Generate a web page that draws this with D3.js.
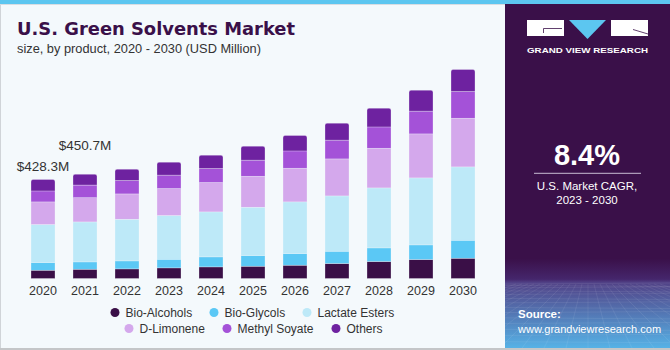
<!DOCTYPE html>
<html lang="en">
<head>
<meta charset="utf-8">
<title>U.S. Green Solvents Market</title>
<script src="https://cdn.jsdelivr.net/npm/d3@7"></script>
<style>
  body { margin: 0; background: #f4f9fc; }
  svg text { font-family: "Liberation Sans", Arial, sans-serif; }
</style>
</head>
<body>
<script>
// years on the x axis
const years = ["2020","2021","2022","2023","2024","2025","2026","2027","2028","2029","2030"];
// product segments, bottom to top
const products = ["Bio-Alcohols","Bio-Glycols","Lactate Esters","D-Limonene","Methyl Soyate","Others"];
const colors = ["#3a0f47","#5bc8f5","#bde9f8","#d4a8ec","#a452d8","#6e22a0"];

// USD million
const bioAlcohols   = [35.9, 40.2, 41.5, 45.9, 50.2, 53.2, 57.6, 64.9, 73.6, 82.2, 87.8];
const bioGlycols    = [33.3, 31.6, 34.6, 37.6, 43.3, 46.3, 50.6, 53.2, 58.8, 63.2, 77.9];
const lactateEsters = [164.4, 173.0, 180.4, 189.1, 194.7, 209.0, 223.3, 239.3, 259.6, 289.9, 317.2];
const dLimonene     = [97.8, 105.0, 109.5, 116.8, 127.2, 134.1, 145.8, 160.1, 171.8, 190.4, 210.7];
const methylSoyate  = [47.6, 54.5, 58.0, 57.6, 60.6, 69.2, 74.9, 80.9, 92.2, 98.2, 115.5];
const others        = [49.3, 46.5, 48.9, 56.3, 57.6, 60.6, 66.6, 73.6, 80.9, 90.9, 95.2];

const valueLabels = ["$428.3M", "$450.7M"];   // shown on 2020 and 2021

const W = 670, H = 350;

const svg = d3.select("body").append("svg")
  .attr("width", W).attr("height", H);

// background + frame
svg.append("rect").attr("width", W).attr("height", H).attr("fill", "#f4f9fc");
svg.append("rect").attr("x", 0).attr("y", 0).attr("width", 1).attr("height", H).attr("fill", "#d0d4d8");
svg.append("rect").attr("x", 0).attr("y", 348).attr("width", W).attr("height", 2).attr("fill", "#c4c6c8");
svg.append("rect").attr("x", 0).attr("y", 0).attr("width", W).attr("height", 4).attr("fill", "#5cc6f0");
svg.append("rect").attr("x", 0).attr("y", 4).attr("width", 505).attr("height", 1).attr("fill", "#d8dde2");

// title
svg.append("text").attr("x", 17).attr("y", 35)
  .style("font-family", "'DejaVu Sans', sans-serif")
  .style("font-weight", "bold").style("font-size", "17.9px")
  .attr("fill", "#3a1049")
  .text("U.S. Green Solvents Market");
svg.append("text").attr("x", 17).attr("y", 53)
  .style("font-size", "12.8px").attr("fill", "#333")
  .text("size, by product, 2020 - 2030 (USD Million)");

// stack the series
const series = [bioAlcohols, bioGlycols, lactateEsters, dLimonene, methylSoyate, others];
const rows = years.map((yr, i) => {
  const r = { year: yr };
  products.forEach((p, k) => r[p] = series[k][i]);
  return r;
});
const stacked = d3.stack().keys(products)(rows);

const x = d3.scaleBand().domain(years).range([22, 484])
  .paddingInner(18 / 42).paddingOuter(9 / 42);
const y = d3.scaleLinear().domain([0, 1000]).range([278.5, 47.4]);

function roundTop(x0, y0, w, h, r) {
  return `M${x0},${y0 + h}V${y0 + r}Q${x0},${y0} ${x0 + r},${y0}` +
         `H${x0 + w - r}Q${x0 + w},${y0} ${x0 + w},${y0 + r}V${y0 + h}Z`;
}

const layers = svg.append("g").selectAll("g")
  .data(stacked).enter().append("g")
  .attr("fill", (d, i) => colors[i]);

layers.each(function (layer, k) {
  const g = d3.select(this);
  if (k === products.length - 1) {
    g.selectAll("path").data(layer).enter().append("path")
      .attr("d", d => roundTop(x(d.data.year), y(d[1]), x.bandwidth(), y(d[0]) - y(d[1]), 2))
      .attr("stroke", "#f4f9fc").attr("stroke-width", 0.5).attr("stroke-opacity", 0.6);
  } else {
    g.selectAll("rect").data(layer).enter().append("rect")
      .attr("x", d => x(d.data.year))
      .attr("y", d => y(d[1]))
      .attr("width", x.bandwidth())
      .attr("height", d => y(d[0]) - y(d[1]))
      .attr("stroke", "#f4f9fc").attr("stroke-width", 0.5).attr("stroke-opacity", 0.6);
  }
});

// x axis labels
const xAxis = svg.append("g").attr("transform", "translate(0,278.5)")
  .call(d3.axisBottom(x).tickSize(0).tickPadding(8));
xAxis.select(".domain").remove();
xAxis.selectAll("text").style("font-size", "12.5px").attr("fill", "#333")
  .style("font-family", "'Liberation Sans', Arial, sans-serif");

// value labels
const topLayer = stacked[stacked.length - 1];
svg.selectAll(".vlabel").data(valueLabels).enter().append("text")
  .attr("class", "vlabel")
  .attr("x", (d, i) => x(years[i]) + x.bandwidth() / 2)
  .attr("y", (d, i) => y(topLayer[i][1]) - (i === 0 ? 9 : 24))
  .attr("text-anchor", "middle")
  .style("font-size", "13.5px").attr("fill", "#333")
  .text(d => d);

// legend
const legendPos = [[115, 312.5], [214, 312.5], [307, 312.5], [129, 328.5], [227, 328.5], [336, 328.5]];
const lg = svg.append("g").selectAll("g").data(products).enter().append("g")
  .attr("transform", (d, i) => `translate(${legendPos[i][0]},${legendPos[i][1]})`);
lg.append("circle").attr("r", 4.5).attr("fill", (d, i) => colors[i]);
lg.append("text").attr("x", 10.5).attr("y", 4.2)
  .style("font-size", "12px").attr("fill", "#333").text(d => d);

// right panel
const defs = svg.append("defs");
const grad = defs.append("linearGradient").attr("id", "panelGrad")
  .attr("x1", 0).attr("y1", 0).attr("x2", 0).attr("y2", 1);
grad.append("stop").attr("offset", "0%").attr("stop-color", "#3a1049");
grad.append("stop").attr("offset", "74%").attr("stop-color", "#3a1049");
grad.append("stop").attr("offset", "80%").attr("stop-color", "#45266c");
grad.append("stop").attr("offset", "81%").attr("stop-color", "#514287");
grad.append("stop").attr("offset", "100%").attr("stop-color", "#56b2e6");

svg.append("rect").attr("x", 505).attr("y", 4).attr("width", 165).attr("height", 344)
  .attr("fill", "url(#panelGrad)");

// faint perspective grid in the lower panel
const grid = svg.append("g").attr("stroke", "#ffffff").attr("stroke-opacity", 0.13)
  .attr("stroke-width", 0.6).attr("fill", "none");
d3.range(0, 14).forEach(i => {
  const yy = 284 + Math.pow(i, 1.45) * 1.4;
  if (yy < 348) grid.append("line").attr("x1", 505).attr("x2", 670).attr("y1", yy).attr("y2", yy + (i % 2 ? 1 : -1));
});
d3.range(-12, 13).forEach(i => {
  grid.append("line").attr("x1", 588 + i * 6).attr("y1", 284)
    .attr("x2", 588 + i * 22).attr("y2", 348);
});

// logo
const logo = svg.append("g");
logo.append("rect").attr("x", 527).attr("y", 20).attr("width", 37).attr("height", 16).attr("fill", "#fff");
logo.append("path").attr("d", "M569,20H606L587.5,39Z").attr("fill", "#5cc6f0");
logo.append("rect").attr("x", 611).attr("y", 20).attr("width", 37).attr("height", 16).attr("fill", "#fff");
logo.append("path").attr("d", "M543.5,33V28.5H562").attr("stroke", "#3a1049").attr("stroke-width", 0.8).attr("fill", "none");
logo.append("path").attr("d", "M633,29.5L648,34").attr("stroke", "#3a1049").attr("stroke-width", 0.8).attr("fill", "none");
logo.append("text").attr("x", 527).attr("y", 53.3).attr("textLength", 121).attr("lengthAdjust", "spacingAndGlyphs")
  .style("font-size", "7.5px").style("font-weight", "bold").attr("fill", "#fff")
  .text("GRAND VIEW RESEARCH");

// CAGR block
svg.append("text").attr("x", 587).attr("y", 165).attr("text-anchor", "middle")
  .style("font-size", "29px").style("font-weight", "bold").attr("fill", "#fff").text("8.4%");
svg.append("line").attr("x1", 534).attr("x2", 641).attr("y1", 173.3).attr("y2", 173.3)
  .attr("stroke", "#c9bcd4").attr("stroke-width", 1);
svg.append("text").attr("x", 587).attr("y", 190).attr("text-anchor", "middle")
  .style("font-size", "11.5px").attr("fill", "#fff").text("U.S. Market CAGR,");
svg.append("text").attr("x", 587).attr("y", 204).attr("text-anchor", "middle")
  .style("font-size", "11.5px").attr("fill", "#fff").text("2023 - 2030");

// source
svg.append("text").attr("x", 518).attr("y", 317.5)
  .style("font-size", "11.5px").style("font-weight", "bold").attr("fill", "#fff").text("Source:");
svg.append("text").attr("x", 518).attr("y", 333)
  .style("font-size", "11px").attr("fill", "#fff").text("www.grandviewresearch.com");
</script>
</body>
</html>
